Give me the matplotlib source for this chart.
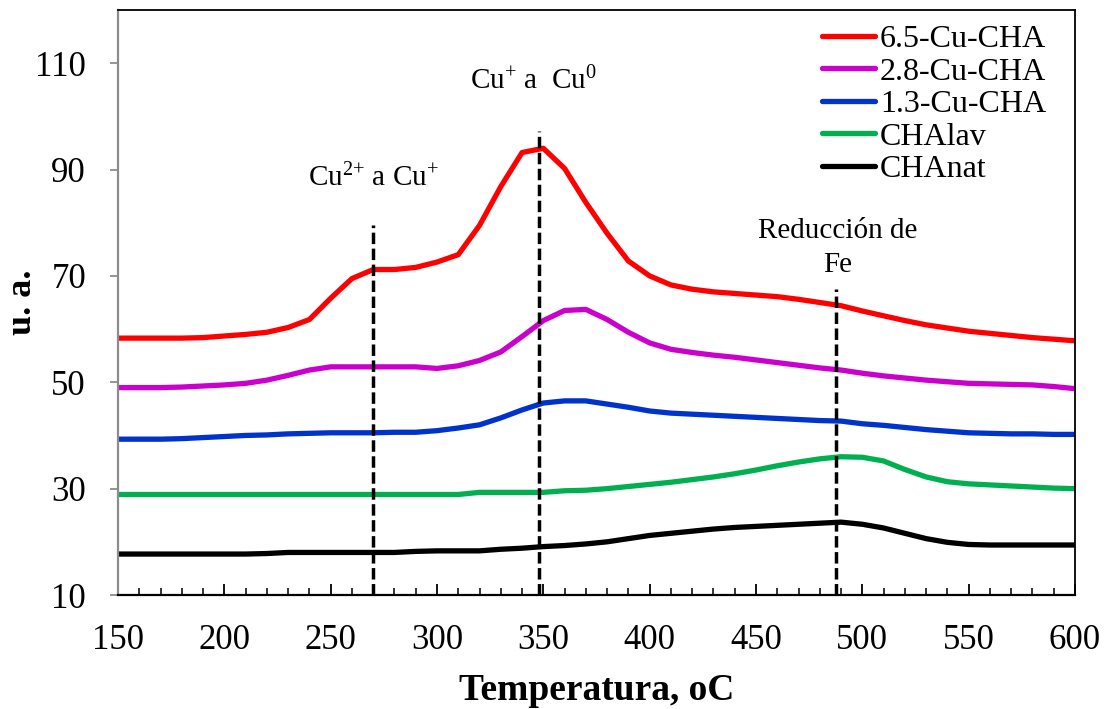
import matplotlib
matplotlib.use('Agg')
import matplotlib.pyplot as plt
from matplotlib.ticker import MultipleLocator

plt.rcParams['font.family'] = ['Liberation Serif', 'DejaVu Serif']
plt.rcParams['mathtext.fontset'] = 'custom'
plt.rcParams['mathtext.rm'] = 'Liberation Serif'
plt.rcParams['mathtext.it'] = 'Liberation Serif:italic'

temp = [150, 160, 170, 180, 190, 200, 210, 220, 230, 240,
        250, 260, 270, 280, 290, 300, 310, 320, 330, 340,
        350, 360, 370, 380, 390, 400, 410, 420, 430, 440,
        450, 460, 470, 480, 490, 500, 510, 520, 530, 540,
        550, 560, 570, 580, 590, 600]

cu65 = [58.3, 58.3, 58.3, 58.3, 58.4, 58.7, 59.0, 59.4, 60.3, 61.8,
        65.8, 69.5, 71.2, 71.2, 71.6, 72.6, 74.0, 79.5, 86.8, 93.2,
        94.0, 90.2, 83.8, 78.0, 72.8, 70.0, 68.3, 67.5, 67.0, 66.7,
        66.4, 66.1, 65.6, 65.0, 64.4, 63.4, 62.5, 61.6, 60.8, 60.2,
        59.6, 59.2, 58.8, 58.4, 58.1, 57.8]

cu28 = [49.0, 49.0, 49.0, 49.1, 49.3, 49.5, 49.8, 50.4, 51.3, 52.3,
        52.9, 52.9, 52.9, 52.9, 52.9, 52.6, 53.1, 54.1, 55.7, 58.6,
        61.6, 63.5, 63.7, 61.8, 59.4, 57.4, 56.2, 55.6, 55.1, 54.7,
        54.2, 53.7, 53.2, 52.7, 52.3, 51.7, 51.2, 50.8, 50.4, 50.1,
        49.8, 49.7, 49.6, 49.5, 49.2, 48.8]

cu13 = [39.3, 39.3, 39.3, 39.4, 39.6, 39.8, 40.0, 40.1, 40.3, 40.4,
        40.5, 40.5, 40.5, 40.6, 40.6, 40.9, 41.4, 42.0, 43.3, 44.8,
        46.1, 46.5, 46.5, 45.9, 45.3, 44.6, 44.2, 44.0, 43.8, 43.6,
        43.4, 43.2, 43.0, 42.8, 42.7, 42.2, 41.9, 41.5, 41.1, 40.8,
        40.5, 40.4, 40.3, 40.3, 40.2, 40.2]

chalav = [28.9, 28.9, 28.9, 28.9, 28.9, 28.9, 28.9, 28.9, 28.9, 28.9,
          28.9, 28.9, 28.9, 28.9, 28.9, 28.9, 28.9, 29.3, 29.3, 29.3,
          29.3, 29.6, 29.7, 30.0, 30.4, 30.8, 31.2, 31.7, 32.2, 32.8,
          33.5, 34.3, 35.0, 35.6, 36.0, 35.9, 35.2, 33.6, 32.2, 31.3,
          30.9, 30.7, 30.5, 30.3, 30.1, 30.0]

chanat = [17.7, 17.7, 17.7, 17.7, 17.7, 17.7, 17.7, 17.8, 18.0, 18.0,
          18.0, 18.0, 18.0, 18.0, 18.2, 18.3, 18.3, 18.3, 18.6, 18.8,
          19.1, 19.3, 19.6, 20.0, 20.6, 21.2, 21.6, 22.0, 22.4, 22.7,
          22.9, 23.1, 23.3, 23.5, 23.7, 23.3, 22.6, 21.6, 20.6, 19.9,
          19.5, 19.4, 19.4, 19.4, 19.4, 19.4]

series = [
    ('6.5-Cu-CHA', cu65, '#ff0000'),
    ('2.8-Cu-CHA', cu28, '#cc00cc'),
    ('1.3-Cu-CHA', cu13, '#0033cc'),
    ('CHAlav', chalav, '#00b050'),
    ('CHAnat', chanat, '#000000'),
]

# reduction markers: temperature, top of dashed line
peaks_x = [270, 348, 487.5]
peaks_top = [79.5, 97.3, 67.5]

fig = plt.figure(figsize=(11.1, 7.09), dpi=100)
ax = fig.add_axes([118 / 1110, 114 / 709, 957 / 1110, 585 / 709])

for name, vals, col in series:
    ax.plot(temp, vals, color=col, lw=3.8, label=name,
            solid_capstyle='round', solid_joinstyle='round')

for x, top in zip(peaks_x, peaks_top):
    ax.plot([x, x], [10, top], color='black', lw=2.5, ls=(0, (3.3, 1.3)), zorder=5)

ax.text(270, 86.9, r'Cu$\mathregular{^{2{+}}}$ a Cu$\mathregular{^{+}}$',
        fontsize=21, ha='center', va='baseline')
ax.text(345.5, 105.1, r'Cu$\mathregular{^{+}}$ a  Cu$\mathregular{^{0}}$',
        fontsize=21, ha='center', va='baseline')
ax.text(488.5, 77.1, 'Reducción de', fontsize=21, ha='center', va='baseline')
ax.text(488.5, 70.8, 'Fe', fontsize=21, ha='center', va='baseline')

ax.set_xlim(150, 600)
ax.set_ylim(10, 120)
ax.xaxis.set_major_locator(MultipleLocator(50))
ax.xaxis.set_minor_locator(MultipleLocator(10))
ax.set_yticks([10, 30, 50, 70, 90, 110])

ax.tick_params(axis='x', which='major', direction='in', length=8, width=1.3,
               colors='black', labelsize=25, pad=21)
ax.tick_params(axis='x', which='minor', direction='in', length=5, width=1.1,
               colors='black')
ax.tick_params(axis='y', direction='out', length=6, width=1.3,
               color='#8c8c8c', labelcolor='black', labelsize=25, pad=17)

ax.spines['left'].set_color('#8c8c8c')
ax.spines['left'].set_linewidth(1.6)
ax.spines['bottom'].set_linewidth(1.6)
ax.spines['top'].set_linewidth(1.3)
ax.spines['right'].set_linewidth(1.3)

ax.set_xlabel('Temperatura, oC', fontsize=27, fontweight='bold')
ax.set_ylabel('u. a.', fontsize=26, fontweight='bold')
ax.xaxis.set_label_coords(0.5, -0.133)
ax.yaxis.set_label_coords(-0.083, 0.5)

ax.legend(loc='upper right', bbox_to_anchor=(0.970, 0.975), frameon=False,
          fontsize=23, handlelength=1.66, handletextpad=0.16, labelspacing=0.1,
          borderpad=0, borderaxespad=0)

fig.savefig('out.png', dpi=100)
